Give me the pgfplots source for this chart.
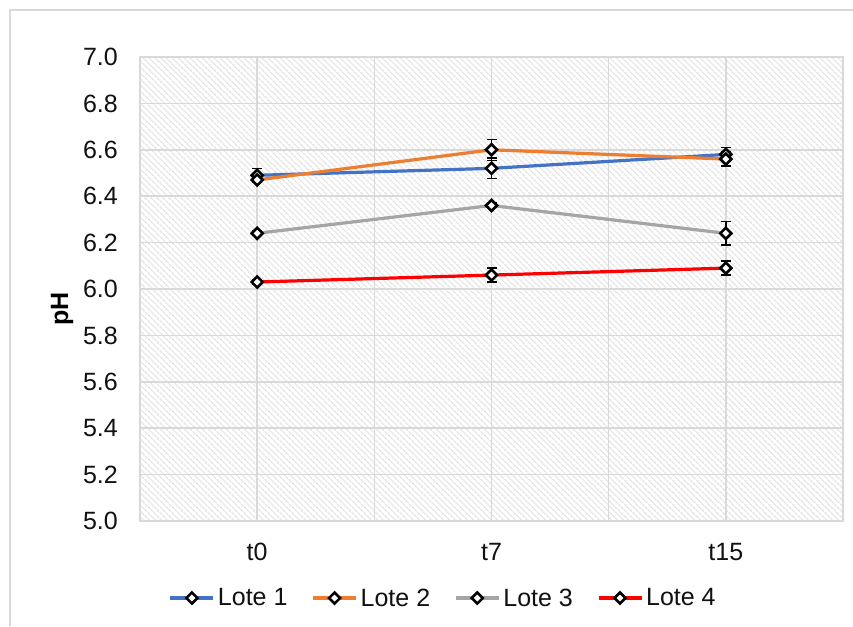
\documentclass[border=0pt]{standalone}
\usepackage{fontspec}
\setmainfont{Liberation Sans}
\usepackage{pgfplots}
\pgfplotsset{compat=1.18}
\usetikzlibrary{patterns.meta}

\definecolor{loteA}{HTML}{4472C4}
\definecolor{loteB}{HTML}{ED7D31}
\definecolor{loteC}{HTML}{A5A5A5}
\definecolor{loteD}{HTML}{FF0000}
\definecolor{gridc}{HTML}{D9D9D9}
\definecolor{txt}{HTML}{111111}
\newcommand\chartfont{\fontsize{25}{29}\selectfont}

\pgfplotsset{
  lote/.style={line width=3.2pt,
    mark=square*, mark size=3.9pt,
    mark options={rotate=45, draw=black, fill=white, line width=2.6pt, solid},
    error bars/y dir=both, error bars/y explicit,
    error bars/error bar style={black, line width=1.4pt},
    error bars/error mark options={rotate=90, black, line width=1.4pt, mark size=5pt}},
}

\begin{document}
\begin{tikzpicture}
\useasboundingbox (0pt,0pt) rectangle (853pt,626pt);
\fill[white] (0pt,0pt) rectangle (853pt,626pt);
\draw[gridc, line width=2pt] (10pt,0pt) -- (10pt,616pt) -- (853pt,616pt);

\begin{axis}[
  at={(140pt,105pt)}, anchor=south west,
  scale only axis, width=703pt, height=464pt,
  xmin=-0.5, xmax=2.5, ymin=5, ymax=7,
  xtick={0,1,2}, xticklabels={t0,t7,t15},
  minor xtick={-0.5,0.5,1.5,2.5},
  ytick={5,5.2,...,7.01},
  yticklabel style={/pgf/number format/fixed, /pgf/number format/fixed zerofill,
    /pgf/number format/precision=1},
  /pgf/number format/assume math mode=true,
  major tick length=0pt, minor tick length=0pt,
  tick label style={font=\chartfont, text=txt, inner sep=0pt},
  yticklabel style={anchor=east, xshift=-22pt},
  xticklabel style={anchor=north, yshift=-22pt},
  grid=both,
  major grid style={gridc, line width=1.5pt},
  minor grid style={gridc, line width=1.5pt},
  axis line style={gridc, line width=1.5pt},
  axis background/.style={pattern={Lines[angle=-45, distance=4pt, line width=1.3pt]}, pattern color=gray!22},
  legend columns=4,
  legend style={at={(axis description cs:0.432,-0.166)}, anchor=center,
    draw=none, fill=none, font=\chartfont, text=txt,
    /tikz/every even column/.append style={column sep=21pt},
    nodes={inner sep=3pt}},
  legend image code/.code={
    \draw[mark repeat=2, mark phase=2] plot coordinates {(0pt,0pt) (21.5pt,0pt) (43pt,0pt)};},
]
\addplot[lote, loteA] coordinates {(0,6.49) +- (0,0.03) (1,6.52) +- (0,0.045) (2,6.58) +- (0,0.03)};
\addplot[lote, loteB] coordinates {(0,6.47) +- (0,0.01) (1,6.60) +- (0,0.045) (2,6.56) +- (0,0.03)};
\addplot[lote, loteC] coordinates {(0,6.24) +- (0,0.01) (1,6.36) +- (0,0.01) (2,6.24) +- (0,0.05)};
\addplot[lote, loteD] coordinates {(0,6.03) +- (0,0.01) (1,6.06) +- (0,0.03) (2,6.09) +- (0,0.03)};
\legend{Lote 1, Lote 2, Lote 3, Lote 4}
\end{axis}

\node[rotate=90, font=\bfseries\chartfont, text=black] at (62pt,317pt) {pH};
\end{tikzpicture}
\end{document}
